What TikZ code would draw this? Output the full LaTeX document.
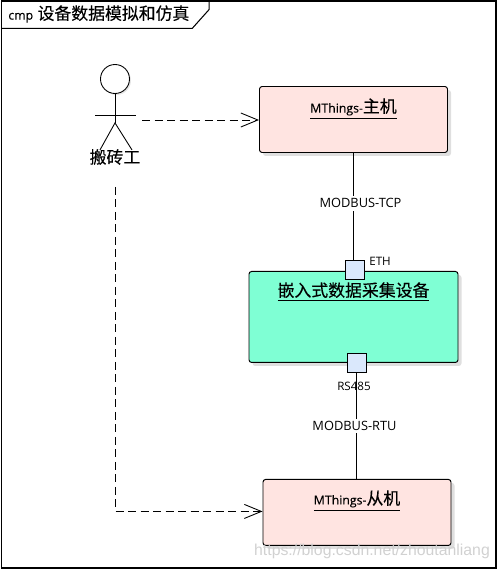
\documentclass[tikz,border=0pt]{standalone}
\usepackage{fontspec}
\setmainfont{Open Sans}
\newfontfamily\cjk[FakeBold=0.25]{Noto Sans CJK SC}
\newfontfamily\semi[FakeBold=0.2]{Open Sans}
\newfontfamily\wmfont{Liberation Sans}
\usepackage{xcolor}
\usetikzlibrary{arrows.meta, positioning, shadows}
\definecolor{hostpink}{HTML}{FFE4E1}
\definecolor{devgreen}{HTML}{7FFFD4}
\definecolor{portblue}{HTML}{DAE8FC}

\begin{document}
\begin{tikzpicture}[
  box/.style={rectangle, rounded corners=1.5pt, draw=black, line width=0.55pt,
              fill=hostpink, minimum width=3.76cm, minimum height=1.32cm,
              drop shadow={shadow xshift=0.07cm, shadow yshift=-0.07cm, opacity=0.25}},
  boxtitle/.style={inner sep=0pt, font=\fontsize{7}{9}\selectfont\semi},
  port/.style={rectangle, draw=black, line width=0.5pt, fill=portblue,
               minimum size=0.38cm, inner sep=0pt},
  portlabel/.style={inner sep=0pt, font=\fontsize{6.6}{8}\selectfont},
  linklabel/.style={fill=white, inner sep=1.5pt, font=\fontsize{7.3}{8}\selectfont},
  link/.style={line width=0.5pt},
  dep/.style={line width=0.5pt, dash pattern=on 0.16cm off 0.09cm,
              -{Straight Barb[length=0.34cm,width=0.28cm]}},
  limb/.style={line width=0.5pt}
]
\useasboundingbox (0,0) rectangle (9.96,11.4);

% Frame and title tab
\node[rectangle, draw=black, line width=0.6pt, minimum width=9.886cm,
      minimum height=11.34cm, inner sep=0pt] (frame) at (4.977,5.71) {};
\draw[line width=0.6pt] ([yshift=-0.56cm]frame.north west) -- ++(3.82,0)
      -- ++(0.34,0.38) -- ++(0,0.18);
\node[anchor=west, inner sep=0pt, font=\fontsize{9.6}{11}\selectfont] (title)
      at (0.16,11.12) {{\fontsize{7}{8}\selectfont\semi cmp} {\cjk 设备数据模拟和仿真}};

% Boxes
\node[box] (host) at (7.07,9.01) {};
\node[box, below=2.36cm of host.south, anchor=north, minimum width=4.18cm,
      minimum height=1.82cm, fill=devgreen] (device) {};
\node[box, below=2.32cm of device.south, anchor=north, xshift=0.07cm] (slave) {};

% Box titles
\node[boxtitle, below=0.24cm of host.north] (hosttitle)
      {\underline{MThings-{\fontsize{9.6}{11}\selectfont\cjk 主机}}};
\node[boxtitle, below=0.22cm of device.north] (devicetitle)
      {\underline{\fontsize{9.6}{11}\selectfont\cjk 嵌入式数据采集设备}};
\node[boxtitle, below=0.22cm of slave.north] (slavetitle)
      {\underline{MThings-{\fontsize{9.6}{11}\selectfont\cjk 从机}}};

% Ports
\node[port] (eth) at ([xshift=0.03cm,yshift=0.02cm]device.north) {};
\node[port] (rs) at ([xshift=0.06cm]device.south) {};
\node[portlabel, anchor=west] (ethlabel) at (7.38,6.18) {ETH};
\node[portlabel] (rslabel) at (7.08,3.68) {RS485};

% Actor
\node[circle, draw=black, line width=0.5pt, fill=white, minimum size=0.58cm,
      inner sep=0pt, drop shadow={shadow xshift=0.03cm, shadow yshift=-0.03cm, opacity=0.2}]
      (head) at (2.3,9.82) {};
\coordinate[below=0.44cm of head.south] (hip-top);
\coordinate[below=0.58cm of head.south] (hip);
\coordinate[below left=0.54cm and 0.3cm of hip] (footl);
\coordinate[below right=0.54cm and 0.34cm of hip] (footr);
\draw[limb] (head.south) -- (hip);
\draw[limb] ([xshift=-0.4cm]hip-top) -- ([xshift=0.42cm]hip-top);
\draw[limb] (footl) -- (hip) -- (footr);
\node[inner sep=0pt, font=\fontsize{9.6}{11}\selectfont\cjk] (actorname) at (2.3,8.26) {搬砖工};

% Arrows
\coordinate (actorout) at (2.84,9.0);
\coordinate (actordown) at (2.3,7.66);
\draw[dep] (actorout) -- (actorout -| host.west);
\draw[dep] (actordown) |- ([yshift=0.02cm]slave.west);
\draw[link] (eth.north -| host.south) -- (host.south)
      node[linklabel, pos=0.53, xshift=0.14cm] (tcp) {MODBUS-TCP};
\draw[link] (rs.south) -- (rs.south |- slave.north)
      node[linklabel, midway, xshift=-0.04cm] (rtu) {MODBUS-RTU};

% Watermark
\node[inner sep=0pt, text=black!18, font=\fontsize{9}{10}\selectfont\wmfont] (mark)
      at (7.44,0.38) {https://blog.csdn.net/zhoutanliang};
\end{tikzpicture}
\end{document}
